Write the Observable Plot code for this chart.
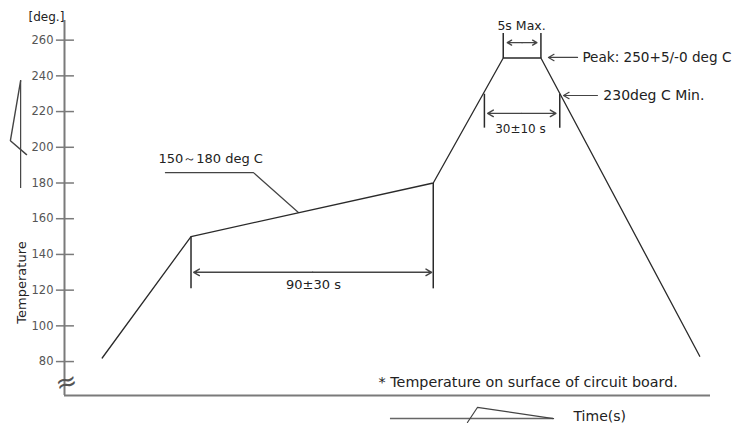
<!DOCTYPE html>
<html><head><meta charset="utf-8">
<script src="https://cdn.jsdelivr.net/npm/d3@7"></script>
<script src="https://cdn.jsdelivr.net/npm/@observablehq/plot@0.6"></script>
<style>
html,body{margin:0;padding:0;background:#fff;}
</style></head><body><div id="chart"></div>
<script>
// ---- data ----
const profileTime = [14, 47, 137, 163, 177, 236];   // seconds (schematic)
const profileTemp = [82, 150, 180, 250, 250, 83];   // deg C
const yTicks = [80, 100, 120, 140, 160, 180, 200, 220, 240, 260];
const preheatWindow = [47, 137];
const preheatTemps = [150, 180];
const peakWindow = [163, 177];
const peakTemp = 250;
const liquidusWindow = [156, 184];
const liquidusTemp = 230;
const xDomain = [0, 240];
const yDomain = [61, 271];

const labels = {
  preheat: "150～180 deg C",
  preheatTime: "90±30 s",
  peakTime: "5s Max.",
  peak: "Peak: 250+5/-0 deg C",
  liquidus: "230deg C Min.",
  liquidusTime: "30±10 s",
  note: "* Temperature on surface of circuit board.",
  xTitle: "Time(s)",
  yTitle: "Temperature",
  yUnit: "[deg.]"
};

const profile = profileTime.map((t, i) => ({t, temp: profileTemp[i]}));

// extension lines of the dimension marks
const extLines = [
  {x: preheatWindow[0], y1: preheatTemps[0], y2: 121},
  {x: preheatWindow[1], y1: preheatTemps[1], y2: 121},
  {x: peakWindow[0], y1: peakTemp, y2: 264},
  {x: peakWindow[1], y1: peakTemp, y2: 264},
  {x: liquidusWindow[0], y1: liquidusTemp, y2: 211},
  {x: liquidusWindow[1], y1: liquidusTemp, y2: 211}
];
// double-headed dimension arrows
const dimArrows = [
  {x1: preheatWindow[0] + 1, x2: preheatWindow[1] - 0.6, y: 130},
  {x1: peakWindow[0] + 1.5, x2: peakWindow[1] - 1.5, y: 258.6},
  {x1: liquidusWindow[0] + 1.2, x2: liquidusWindow[1] - 1.4, y: 219}
];
const halfArrows = dimArrows.flatMap(d => {
  const m = (d.x1 + d.x2) / 2;
  return [{x1: m, x2: d.x1, y: d.y}, {x1: m, x2: d.x2, y: d.y}];
});
// pointer arrows
const pointers = [
  {x1: 190.6, x2: 179.8, y: peakTemp + 0.3},
  {x1: 198, x2: 185.4, y: 229}
];
// leader line for the preheat label
const leader = [{t: 37.5, temp: 185.8}, {t: 70.2, temp: 185.8}, {t: 86.9, temp: 163.5}];
// axis direction indicators (as in the scan)
const yIndicator = [{t: -16.3, temp: 237.3}, {t: -20.1, temp: 203.7}, {t: -14.1, temp: 195.9}];
const xIndicator = [{t: 149.7, temp: 45.9}, {t: 153.4, temp: 54.3}, {t: 181.7, temp: 48.1}];

const startTexts = [
  {x: 34.9, y: 193.7, text: labels.preheat, size: 13},
  {x: 192.4, y: 250.3, text: labels.peak, size: 13.6},
  {x: 200.2, y: 229, text: labels.liquidus, size: 14},
  {x: 116.7, y: 68.3, text: labels.note, size: 14.3},
  {x: 189.1, y: 49.2, text: labels.xTitle, size: 14}
];
const middleTexts = [
  {x: 92.5, y: 123, text: labels.preheatTime, size: 13},
  {x: 169.8, y: 268, text: labels.peakTime, size: 12.5},
  {x: 169.4, y: 210.3, text: labels.liquidusTime, size: 12},
  {x: -6.7, y: 273, text: labels.yUnit, size: 12}
];

const ink = "#2a2a2a";
const axisGray = "#7a7a7a";

const chart = Plot.plot({
  width: 741,
  height: 423,
  marginLeft: 64,
  marginRight: 31,
  marginTop: 20,
  marginBottom: 28,
  x: {domain: xDomain, axis: null},
  y: {domain: yDomain},
  style: {fontFamily: "DejaVu Sans", background: "#fff", overflow: "visible"},
  marks: [
    // axes
    Plot.ruleX([0], {y1: yDomain[0], y2: yDomain[1], stroke: axisGray, strokeWidth: 2}),
    Plot.ruleY([yDomain[0]], {x1: xDomain[0], x2: xDomain[1], stroke: axisGray, strokeWidth: 2}),
    Plot.ruleY(yTicks, {x1: -3, x2: 3.7, stroke: axisGray, strokeWidth: 1.5}),
    Plot.axisY(yTicks, {tickSize: 0, tickPadding: 11, label: null, fontSize: 11.5, fill: "#555"}),
    Plot.text(["≈"], {x: 0.7, y: 68.3, fontSize: 26, fill: "#555", rotate: -15}),
    // indicators
    Plot.ruleX([-16.3], {y1: 176.9, y2: 237.3, stroke: "#444", strokeWidth: 1.2}),
    Plot.line(yIndicator, {x: "t", y: "temp", stroke: "#444", strokeWidth: 1.4}),
    Plot.ruleY([48.1], {x1: 121.1, x2: 181.7, stroke: "#666", strokeWidth: 1.4}),
    Plot.line(xIndicator, {x: "t", y: "temp", stroke: "#444", strokeWidth: 1.2}),
    // extension lines
    Plot.link(extLines, {x1: "x", x2: "x", y1: "y1", y2: "y2", stroke: ink, strokeWidth: 1.5}),
    // dimension arrows
    Plot.arrow(halfArrows, {x1: "x1", x2: "x2", y1: "y", y2: "y", stroke: "#444", strokeWidth: 1.4, headLength: 7}),
    Plot.arrow(pointers, {x1: "x1", x2: "x2", y1: "y", y2: "y", stroke: "#444", strokeWidth: 1.2, headLength: 8}),
    Plot.line(leader, {x: "t", y: "temp", stroke: "#444", strokeWidth: 1.2}),
    // profile
    Plot.line(profile, {x: "t", y: "temp", stroke: ink, strokeWidth: 1.3}),
    // texts
    Plot.text(startTexts, {x: "x", y: "y", text: "text", textAnchor: "start", fontSize: "size", fill: "#222"}),
    Plot.text(middleTexts, {x: "x", y: "y", text: "text", textAnchor: "middle", fontSize: "size", fill: "#222"}),
    Plot.text([labels.yTitle], {x: -15.8, y: 124.3, rotate: -90, fontSize: 13, fill: "#222"})
  ]
});
document.getElementById("chart").append(chart);
</script>
</body></html>
